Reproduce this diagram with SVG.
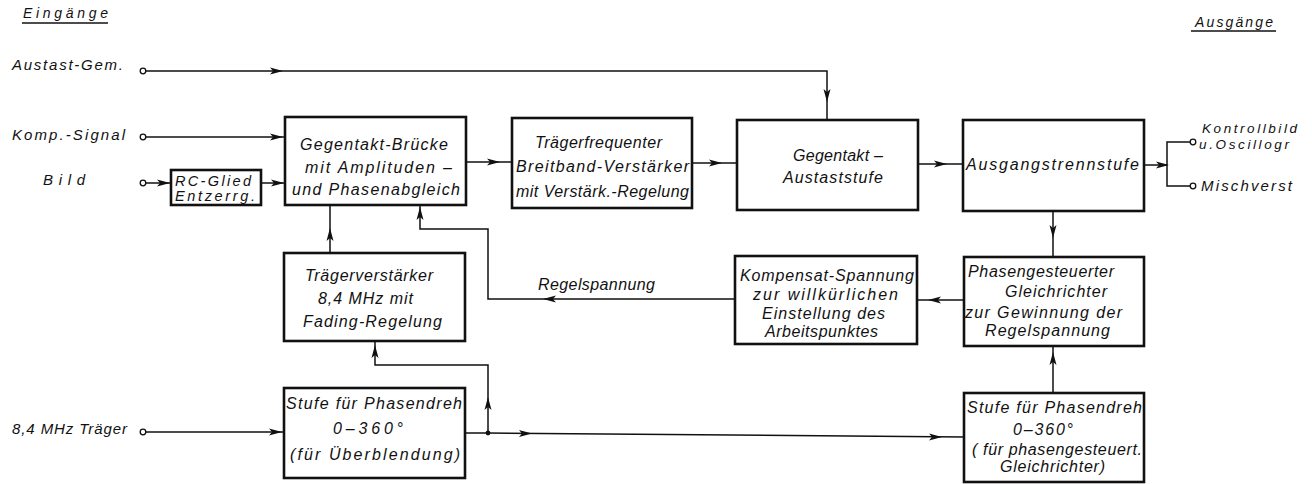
<svg xmlns="http://www.w3.org/2000/svg" xmlns:xlink="http://www.w3.org/1999/xlink" width="1312" height="484" viewBox="0 0 1312 484">
  <style>
    .box { fill: #fff; stroke: #111; stroke-width: 2.6; }
    .wire { fill: none; stroke: #111; stroke-width: 1.5; }
    .term { fill: #fff; stroke: #111; stroke-width: 1.3; }
    .ah { fill: #111; }
    text { font-family: "Liberation Sans", "DejaVu Sans", sans-serif; font-style: italic; fill: #111; font-size: 16px; }
    .lbl { font-size: 15px; }
    .out { font-size: 13.5px; }
    .hdr { font-size: 14px; }
    .small { font-size: 14.5px; }
    .uline { stroke: #111; stroke-width: 1.4; }
  </style>
  <defs>
    <path id="ah" class="ah" d="M0,0 L-13,-3.5 L-10,0 L-13,3.5 Z"/>
  </defs>
  <rect width="1312" height="484" fill="#fff"/>

  <!-- headings -->
  <g id="headings">
    <text class="hdr" x="23" y="18" textLength="85" lengthAdjust="spacing">Eingänge</text>
    <line class="uline" x1="22" y1="23" x2="108" y2="23"/>
    <text class="hdr" x="1195" y="27" textLength="78" lengthAdjust="spacing">Ausgänge</text>
    <line class="uline" x1="1191" y1="31" x2="1276" y2="31"/>
  </g>

  <!-- input terminals -->
  <g id="inputs">
    <text class="lbl" x="12" y="70" textLength="111" lengthAdjust="spacing">Austast-Gem.</text>
    <circle class="term" cx="143" cy="71" r="2.8"/>
    <text class="lbl" x="12" y="140" textLength="113" lengthAdjust="spacing">Komp.-Signal</text>
    <circle class="term" cx="143" cy="137" r="2.8"/>
    <text class="lbl" x="43" y="185" textLength="42" lengthAdjust="spacing">Bild</text>
    <circle class="term" cx="143" cy="183" r="2.8"/>
    <text class="lbl" x="12" y="434" textLength="115" lengthAdjust="spacing">8,4 MHz  Träger</text>
    <circle class="term" cx="143" cy="432" r="2.8"/>
  </g>

  <!-- output terminals -->
  <g id="outputs">
    <circle class="term" cx="1193" cy="142" r="2.8"/>
    <text class="out" x="1202" y="133" textLength="95" lengthAdjust="spacing">Kontrollbild</text>
    <text class="out" x="1199" y="149" textLength="90" lengthAdjust="spacing">u.Oscillogr</text>
    <circle class="term" cx="1193" cy="186" r="2.8"/>
    <text class="lbl" x="1201" y="191" textLength="91" lengthAdjust="spacing">Mischverst</text>
  </g>

  <!-- connectors -->
  <g id="connectors">
    <path class="wire" d="M146,71 H827 V120"/>
    <use href="#ah" transform="translate(283,71)"/>
    <use href="#ah" transform="translate(827,102) rotate(90)"/>

    <path class="wire" d="M146,137 H285"/>
    <use href="#ah" transform="translate(283,137)"/>

    <path class="wire" d="M146,183 H171"/>
    <use href="#ah" transform="translate(170,183)"/>
    <path class="wire" d="M261,183 H285"/>
    <use href="#ah" transform="translate(284,183)"/>

    <path class="wire" d="M466,162 H512"/>
    <use href="#ah" transform="translate(500,162)"/>
    <path class="wire" d="M692,163 H737"/>
    <use href="#ah" transform="translate(722,163)"/>
    <path class="wire" d="M918,164 H963"/>
    <use href="#ah" transform="translate(947,164)"/>

    <path class="wire" d="M1144,165 H1167"/>
    <use href="#ah" transform="translate(1169,165)"/>
    <path class="wire" d="M1190,142 H1167 V186 H1190"/>

    <path class="wire" d="M1053,211 V257"/>
    <use href="#ah" transform="translate(1053,238) rotate(90)"/>

    <path class="wire" d="M964,300 H917"/>
    <use href="#ah" transform="translate(928,300) rotate(180)"/>

    <path class="wire" d="M735,299 H488 V229 H420 V205"/>
    <use href="#ah" transform="translate(543,299) rotate(180)"/>
    <use href="#ah" transform="translate(420,207) rotate(-90)"/>

    <path class="wire" d="M330,253 V205"/>
    <use href="#ah" transform="translate(330,228) rotate(-90)"/>

    <path class="wire" d="M465,433 H488 V365 H375 V341"/>
    <use href="#ah" transform="translate(488,397) rotate(-90)"/>
    <use href="#ah" transform="translate(375,345) rotate(-90)"/>
    <circle cx="488" cy="433" r="2.4" fill="#111"/>
    <path class="wire" d="M488,433 L964,437"/>
    <use href="#ah" transform="translate(532,433.4)"/>
    <use href="#ah" transform="translate(942,437)"/>

    <path class="wire" d="M146,432 H284"/>
    <use href="#ah" transform="translate(282,432)"/>

    <path class="wire" d="M1053,393 V346"/>
    <use href="#ah" transform="translate(1053,352) rotate(-90)"/>
  </g>

  <!-- blocks -->
  <g id="rc-glied">
    <rect class="box" x="171" y="170" width="90" height="35"/>
    <text class="small" x="175" y="186" textLength="76" lengthAdjust="spacing">RC-Glied</text>
    <text class="small" x="175" y="201" textLength="80" lengthAdjust="spacing">Entzerrg.</text>
  </g>

  <g id="gegentakt-bruecke">
    <rect class="box" x="285" y="117" width="181" height="88"/>
    <text x="300" y="150" textLength="148" lengthAdjust="spacing">Gegentakt-Brücke</text>
    <text x="305" y="173" textLength="147" lengthAdjust="spacing">mit  Amplituden –</text>
    <text x="292" y="195" textLength="168" lengthAdjust="spacing">und Phasenabgleich</text>
  </g>

  <g id="traegerfrequenter-verstaerker">
    <rect class="box" x="512" y="118" width="180" height="90"/>
    <text x="535" y="148" textLength="127" lengthAdjust="spacing">Trägerfrequenter</text>
    <text x="516" y="172" textLength="173" lengthAdjust="spacing">Breitband-Verstärker</text>
    <text x="516" y="197" textLength="173" lengthAdjust="spacing">mit Verstärk.-Regelung</text>
  </g>

  <g id="gegentakt-austaststufe">
    <rect class="box" x="737" y="120" width="181" height="90"/>
    <text x="793" y="161" textLength="90" lengthAdjust="spacing">Gegentakt –</text>
    <text x="783" y="183" textLength="100" lengthAdjust="spacing">Austaststufe</text>
  </g>

  <g id="ausgangstrennstufe">
    <rect class="box" x="963" y="120" width="181" height="91"/>
    <text x="966" y="170" textLength="173" lengthAdjust="spacing">Ausgangstrennstufe</text>
  </g>

  <g id="traegerverstaerker">
    <rect class="box" x="284" y="253" width="181" height="88"/>
    <text x="305" y="281" textLength="128" lengthAdjust="spacing">Trägerverstärker</text>
    <text x="318" y="304" textLength="95" lengthAdjust="spacing">8,4 MHz  mit</text>
    <text x="303" y="327" textLength="139" lengthAdjust="spacing">Fading-Regelung</text>
  </g>

  <g id="kompensat-spannung">
    <rect class="box" x="735" y="256" width="182" height="88"/>
    <text x="740" y="281" textLength="174" lengthAdjust="spacing">Kompensat-Spannung</text>
    <text x="753" y="300" textLength="145" lengthAdjust="spacing">zur  willkürlichen</text>
    <text x="762" y="319" textLength="123" lengthAdjust="spacing">Einstellung  des</text>
    <text x="765" y="337" textLength="113" lengthAdjust="spacing">Arbeitspunktes</text>
  </g>

  <g id="phasengesteuerter-gleichrichter">
    <rect class="box" x="964" y="257" width="180" height="89"/>
    <text x="968" y="277" textLength="146" lengthAdjust="spacing">Phasengesteuerter</text>
    <text x="1005" y="297" textLength="102" lengthAdjust="spacing">Gleichrichter</text>
    <text x="965" y="318" textLength="157" lengthAdjust="spacing">zur Gewinnung  der</text>
    <text x="985" y="336" textLength="125" lengthAdjust="spacing">Regelspannung</text>
  </g>

  <g id="stufe-phasendreh-ueberblendung">
    <rect class="box" x="284" y="388" width="181" height="90"/>
    <text x="286" y="409" textLength="176" lengthAdjust="spacing">Stufe  für Phasendreh</text>
    <text x="333" y="434" textLength="70" lengthAdjust="spacing">0–360°</text>
    <text x="290" y="460" textLength="170" lengthAdjust="spacing">(für  Überblendung)</text>
  </g>

  <g id="stufe-phasendreh-gleichrichter">
    <rect class="box" x="964" y="393" width="180" height="89"/>
    <text x="967" y="413" textLength="175" lengthAdjust="spacing">Stufe  für Phasendreh</text>
    <text x="1013" y="435" textLength="60" lengthAdjust="spacing">0–360°</text>
    <text x="972" y="455" textLength="170" lengthAdjust="spacing">( für  phasengesteuert.</text>
    <text x="1000" y="472" textLength="105" lengthAdjust="spacing">Gleichrichter)</text>
  </g>

  <!-- connector label -->
  <g id="label-regelspannung">
    <text x="538" y="290" textLength="117" lengthAdjust="spacing">Regelspannung</text>
  </g>
</svg>
